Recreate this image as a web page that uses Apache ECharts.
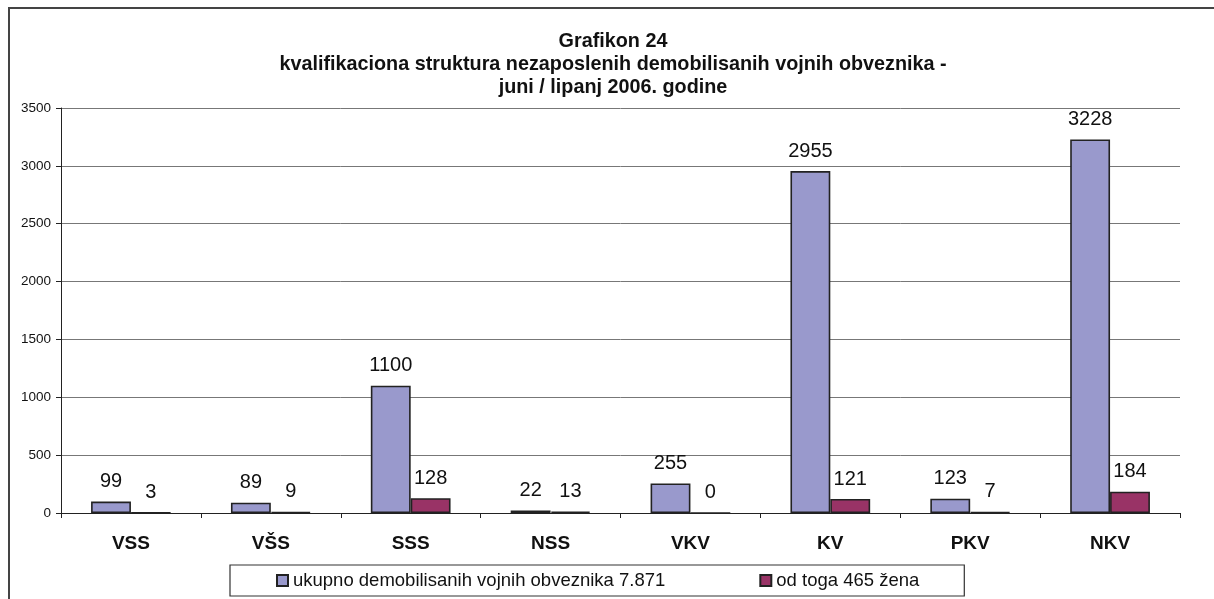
<!DOCTYPE html>
<html><head><meta charset="utf-8">
<script src="https://cdn.jsdelivr.net/npm/echarts@6/dist/echarts.min.js"></script>
<style>html,body{margin:0;padding:0;background:#fff}#c{width:1214px;height:599px}</style>
</head><body><div id="c"></div>
<script>
const categories = ['VSS','VŠS','SSS','NSS','VKV','KV','PKV','NKV'];
const seriesNames = ['ukupno demobilisanih vojnih obveznika 7.871','od toga 465 žena'];
const totalValues = [99, 89, 1100, 22, 255, 2955, 123, 3228];
const womenValues = [3, 9, 128, 13, 0, 121, 7, 184];
const titleLines = ['Grafikon 24','kvalifikaciona struktura nezaposlenih demobilisanih vojnih obveznika -','juni / lipanj 2006. godine'];

const FONT = '"Liberation Sans", Arial, sans-serif';
const chart = echarts.init(document.getElementById('c'));
const lbl = {show:true, position:'top', distance:10, color:'#111', fontSize:20, fontFamily:FONT};
chart.setOption({
  animation:false,
  textStyle:{fontFamily:FONT},
  graphic:[{type:'rect', shape:{x:9,y:8,width:1230,height:620}, style:{fill:'none', stroke:'#444', lineWidth:2}, z:-1}],
  title:{text:titleLines.join('\n'), left:608, textAlign:'center', top:25,
    textStyle:{fontSize:19.8, fontWeight:'bold', color:'#111', lineHeight:23, fontFamily:FONT}},
  grid:{left:61, right:34, top:108, bottom:86},
  legend:{left:230, top:565, orient:'horizontal', itemWidth:11, itemHeight:11, itemGap:94,
    padding:[6,45,6,46], borderColor:'#333', borderWidth:1.2, borderRadius:0,
    textStyle:{fontSize:18.5, color:'#111', fontFamily:FONT},
    data:seriesNames.map(n=>({name:n, icon:'rect'}))},
  xAxis:{type:'category', data:categories,
    axisLine:{lineStyle:{color:'#222', width:1}},
    axisTick:{show:true, length:5, lineStyle:{color:'#222'}},
    axisLabel:{fontSize:19, fontWeight:'bold', color:'#111', margin:21, fontFamily:FONT}},
  yAxis:{type:'value', min:0, max:3500, interval:500,
    axisLine:{show:true, lineStyle:{color:'#222', width:1}},
    axisTick:{show:true, length:5, lineStyle:{color:'#222'}},
    axisLabel:{fontSize:13.5, color:'#111', margin:10, fontFamily:FONT, formatter:v=>String(v)},
    splitLine:{lineStyle:{color:'#777', width:1}}},
  series:[
    {name:seriesNames[0], type:'bar', data:totalValues, barGap:'0%', barCategoryGap:'43%',
      itemStyle:{color:'#9999CC', borderColor:'#222', borderWidth:1.6}, label:lbl},
    {name:seriesNames[1], type:'bar', data:womenValues,
      itemStyle:{color:'#993366', borderColor:'#222', borderWidth:1.6}, label:lbl}
  ]
});
</script></body></html>
